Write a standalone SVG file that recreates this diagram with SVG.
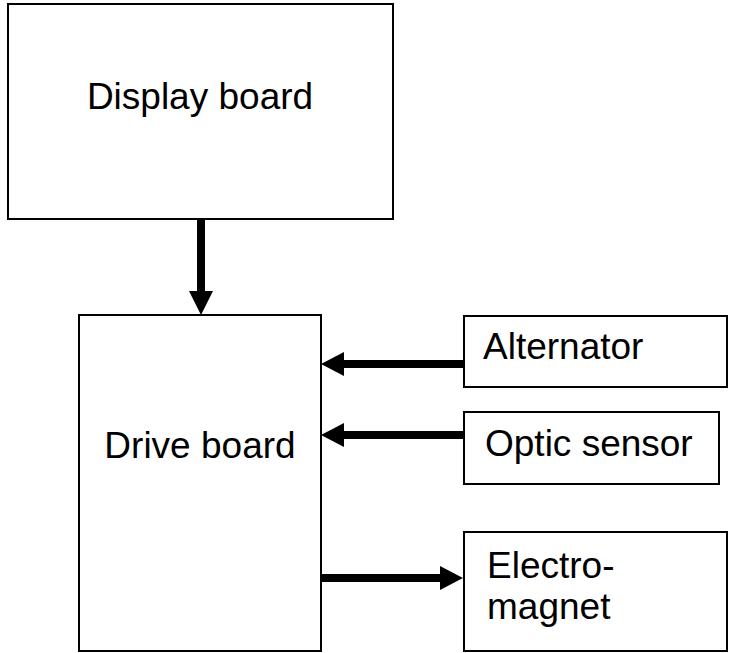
<svg xmlns="http://www.w3.org/2000/svg" width="729" height="653" viewBox="0 0 729 653">
<style>
.box{fill:#fff;stroke:#000;stroke-width:2}
.lbl{font-family:"Liberation Sans",Arial,sans-serif;font-size:37px;fill:#000}
.arr{stroke:#000;stroke-width:8;fill:none}
.head{fill:#000}
</style>
<rect width="729" height="653" fill="#fff"/>
<g id="display-board">
<rect class="box" x="8" y="4" width="385" height="215"/>
<text class="lbl" x="200" y="109" text-anchor="middle">Display board</text>
</g>
<g id="drive-board">
<rect class="box" x="79" y="315" width="242" height="336"/>
<text class="lbl" x="200" y="458" text-anchor="middle">Drive board</text>
</g>
<g id="alternator">
<rect class="box" x="464" y="316" width="263" height="71"/>
<text class="lbl" x="483" y="359">Alternator</text>
</g>
<g id="optic-sensor">
<rect class="box" x="464" y="412" width="255" height="72"/>
<text class="lbl" x="485" y="456">Optic sensor</text>
</g>
<g id="electro-magnet">
<rect class="box" x="464" y="532" width="263" height="119"/>
<text class="lbl" x="487" y="578">Electro-</text>
<text class="lbl" x="487" y="619">magnet</text>
</g>
<g id="connectors">
<line class="arr" x1="201" y1="219" x2="201" y2="294"/>
<polygon class="head" points="189,291 213,291 201,315"/>
<line class="arr" x1="464" y1="364" x2="341" y2="364"/>
<polygon class="head" points="344,352 344,376 321,364"/>
<line class="arr" x1="464" y1="435" x2="341" y2="435"/>
<polygon class="head" points="344,423 344,447 321,435"/>
<line class="arr" x1="321" y1="578" x2="443" y2="578"/>
<polygon class="head" points="440,566 440,590 463,578"/>
</g>
</svg>
